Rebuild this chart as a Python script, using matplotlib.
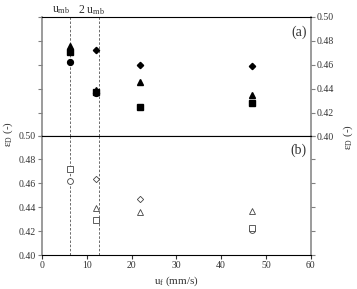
import numpy as np
import matplotlib.pyplot as plt

plt.rcParams['font.family'] = ['Liberation Serif', 'DejaVu Serif']
plt.rcParams['mathtext.fontset'] = 'custom'
plt.rcParams['mathtext.rm'] = 'Liberation Serif'
plt.rcParams['mathtext.it'] = 'Liberation Serif:italic'

# (a) filled markers
a_circ_x = [6.2, 12.0]
a_circ_y = [0.462, 0.436]
a_sq_x = [6.2, 12.0, 22.0, 47.0]
a_sq_y = [0.471, 0.437, 0.425, 0.428]
a_tri_x = [6.2, 12.0, 22.0, 47.0]
a_tri_y = [0.476, 0.439, 0.446, 0.435]
a_dia_x = [12.0, 22.0, 47.0]
a_dia_y = [0.472, 0.460, 0.459]

# (b) open markers
b_circ_x = [6.2, 47.0]
b_circ_y = [0.462, 0.421]
b_sq_x = [6.2, 12.0, 47.0]
b_sq_y = [0.472, 0.429, 0.423]
b_tri_x = [12.0, 22.0, 47.0]
b_tri_y = [0.439, 0.436, 0.437]
b_dia_x = [12.0, 22.0]
b_dia_y = [0.464, 0.447]

u_mb = 6.2
u_2mb = 12.7

yticks = [0.40, 0.42, 0.44, 0.46, 0.48, 0.50]
xticks = [0, 10, 20, 30, 40, 50, 60]

fig = plt.figure(figsize=(3.57, 2.89), dpi=100)
ax1 = fig.add_axes([0.1176, 0.5277, 0.7524, 0.4135])
ax2 = fig.add_axes([0.1176, 0.1176, 0.7524, 0.4135])

txt = '#333333'
for ax in (ax1, ax2):
    ax.set_xlim(0, 60)
    ax.set_ylim(0.40, 0.50)
    ax.set_yticks(yticks)
    ax.set_yticklabels(['%.2f' % v for v in yticks])
    ax.set_xticks(xticks)
    ax.spines['left'].set_color('#808080')
    ax.spines['right'].set_color('#808080')
    ax.spines['left'].set_linewidth(1.1)
    ax.spines['right'].set_linewidth(1.1)
    ax.spines['top'].set_linewidth(0.8)
    ax.spines['bottom'].set_linewidth(0.8)
    ax.tick_params(direction='out', length=3, width=0.8, color='#808080',
                   labelsize=7, labelcolor=txt, pad=1.5)
    ax.axvline(u_mb, color='#555555', lw=0.6, ls=(0, (3, 2)))
    ax.axvline(u_2mb, color='#555555', lw=0.6, ls=(0, (3, 2)))

ax1.tick_params(axis='y', left=True, right=True, labelleft=False, labelright=True)
ax1.tick_params(axis='x', bottom=False, labelbottom=False)
ax2.tick_params(axis='y', left=True, right=True, labelleft=True, labelright=False)
ax2.tick_params(axis='x', color='#333333')

ms = 4.2
ax1.plot(a_circ_x, a_circ_y, 'o', color='k', ms=ms)
ax1.plot(a_sq_x, a_sq_y, 's', color='k', ms=ms - 0.3)
ax1.plot(a_tri_x, a_tri_y, '^', color='k', ms=ms)
ax1.plot(a_dia_x, a_dia_y, 'D', color='k', ms=ms - 1)

ax2.plot(b_circ_x, b_circ_y, 'o', mfc='white', mec='#444444', mew=0.6, ms=ms)
ax2.plot(b_sq_x, b_sq_y, 's', mfc='white', mec='#444444', mew=0.6, ms=ms)
ax2.plot(b_tri_x, b_tri_y, '^', mfc='white', mec='#444444', mew=0.6, ms=ms)
ax2.plot(b_dia_x, b_dia_y, 'D', mfc='white', mec='#444444', mew=0.6, ms=ms - 1)

ax1.text(0.985, 0.93, '(a)', transform=ax1.transAxes, ha='right', va='top', fontsize=10, color=txt)
ax2.text(0.985, 0.93, '(b)', transform=ax2.transAxes, ha='right', va='top', fontsize=10, color=txt)

ax1.text(4.2, 0.5058, r'u$_{\rm mb}$', ha='center', va='center', fontsize=8.5, color=txt)
ax1.text(11.0, 0.5058, r'2 u$_{\rm mb}$', ha='center', va='center', fontsize=8.5, color=txt)

ax2.set_xlabel(r'u$_{\rm f}$ (mm/s)', fontsize=8, color=txt, labelpad=3)

fig.text(0.022, 0.535, r'ε$_{\rm D}$ (-)', rotation=90, ha='center', va='center', fontsize=8, color=txt)
fig.text(0.975, 0.525, r'ε$_{\rm D}$ (-)', rotation=90, ha='center', va='center', fontsize=8, color=txt)

fig.savefig('out.png', dpi=100)
